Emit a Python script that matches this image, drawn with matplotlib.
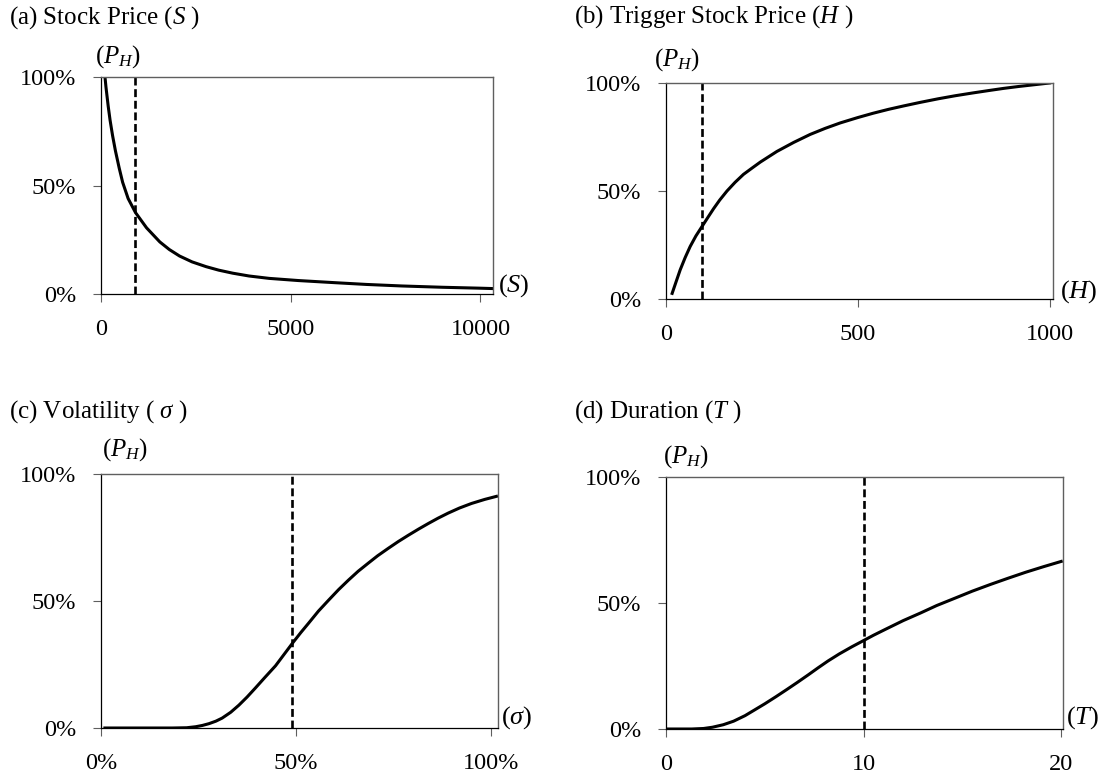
import matplotlib
matplotlib.use("Agg")
import matplotlib.pyplot as plt
from matplotlib.ticker import FuncFormatter

plt.rcParams["font.family"] = ["Liberation Serif", "DejaVu Serif"]
plt.rcParams["mathtext.fontset"] = "custom"
plt.rcParams["mathtext.rm"] = "Liberation Serif"
plt.rcParams["mathtext.it"] = "Liberation Serif:italic"

# (a) probability vs stock price S
s_vals = [105, 130, 160, 190, 240, 305, 380, 480, 570, 715, 910, 1200, 1550,
          1800, 2070, 2400, 2770, 3100, 3470, 3900, 4430, 5200, 6180, 7000,
          7930, 9000, 9940, 10330]
s_prob = [1.00, 0.955, 0.91, 0.865, 0.80, 0.73, 0.66, 0.58, 0.515, 0.44, 0.375,
          0.305, 0.24, 0.205, 0.175, 0.148, 0.126, 0.11, 0.096, 0.083, 0.072,
          0.062, 0.052, 0.044, 0.037, 0.031, 0.027, 0.025]
s_mark = 900

# (b) probability vs trigger price H
h_vals = [16, 25, 37, 50, 63, 78, 94, 110, 124, 140, 159, 180, 202, 225, 246,
          289, 333, 376, 415, 454, 500, 540, 580, 620, 662, 710, 754, 800, 845,
          880, 920, 960, 1000]
h_prob = [0.026, 0.073, 0.135, 0.192, 0.243, 0.292, 0.336, 0.38, 0.418, 0.458,
          0.50, 0.54, 0.577, 0.607, 0.634, 0.683, 0.725, 0.762, 0.79, 0.815,
          0.84, 0.86, 0.878, 0.894, 0.91, 0.927, 0.941, 0.954, 0.966, 0.975,
          0.984, 0.992, 1.00]
h_mark = 94

# (c) probability vs volatility sigma
v_vals = [0.01, 0.10, 0.183, 0.22, 0.243, 0.26, 0.277, 0.295, 0.311, 0.333,
          0.354, 0.375, 0.396, 0.42, 0.448, 0.47, 0.493, 0.513, 0.533, 0.558,
          0.584, 0.61, 0.635, 0.66, 0.686, 0.71, 0.737, 0.763, 0.789, 0.815,
          0.84, 0.865, 0.891, 0.92, 0.951, 0.985, 1.015]
v_prob = [0.0, 0.0, 0.0, 0.001, 0.005, 0.01, 0.017, 0.027, 0.039, 0.062,
          0.09, 0.122, 0.157, 0.198, 0.245, 0.29, 0.337, 0.376, 0.413, 0.46,
          0.503, 0.545, 0.582, 0.617, 0.649, 0.678, 0.707, 0.734, 0.759, 0.783,
          0.805, 0.826, 0.846, 0.866, 0.884, 0.90, 0.912]
v_mark = 0.49

# (d) probability vs duration T
t_vals = [0, 1.3, 1.9, 2.35, 2.9, 3.42, 4.0, 4.49, 5.0, 5.56, 6.1, 6.63, 7.2,
          7.7, 8.2, 8.77, 9.4, 10, 10.5, 11.09, 12, 12.87, 13.7, 14.65, 15.5,
          16.43, 17.3, 18.2, 19.1, 20]
t_prob = [0.0, 0.0, 0.002, 0.007, 0.017, 0.031, 0.053, 0.076, 0.10, 0.128,
          0.156, 0.184, 0.215, 0.243, 0.27, 0.298, 0.326, 0.351, 0.372, 0.395,
          0.43, 0.46, 0.49, 0.52, 0.547, 0.574, 0.598, 0.622, 0.644, 0.665]
t_mark = 10

W, H = 1103, 775
fig = plt.figure(figsize=(W / 100, H / 100), dpi=100)


def make_axes(left, right, top, bottom):
    return fig.add_axes([left / W, 1 - bottom / H, (right - left) / W, (bottom - top) / H])


pct = FuncFormatter(lambda v, _: f"{v * 100:.0f}%")

panels = [
    # x, y, marker, xlim, xticks, x formatter, axes box, title, title pos, x label, label offsets
    (s_vals, s_prob, s_mark, 10330, [0, 5000, 10000], None, (101, 493, 77, 294),
     r"(a) Stock Price ($S$ )", (9, 18), r"$(S)$", (-6, 20), (5, 8)),
    (h_vals, h_prob, h_mark, 1009, [0, 500, 1000], None, (666, 1053, 83, 299),
     r"(b) Trigger Stock Price ($H$ )", (574, 17), r"$(H)$", (-12, 23), (7, 7)),
    (v_vals, v_prob, v_mark, 1.019, [0, 0.5, 1.0], pct, (101, 498, 474, 728),
     r"(c) Volatility ( $\sigma$ )", (9, 412), r"$(\sigma)$", (1, 24), (3, 10)),
    (t_vals, t_prob, t_mark, 20.09, [0, 10, 20], None, (666, 1063, 477, 729),
     r"(d) Duration ($T$ )", (574, 412), r"$(T)$", (-3, 20), (3, 11)),
]

for xs, ys, mark, xmax, xticks, xfmt, box, title, tpos, xlab, poff, xoff in panels:
    ax = make_axes(*box)
    ax.plot(xs, ys, color="black", lw=2.2, solid_joinstyle="round")
    ax.plot([mark, mark], [0, 1], color="black", lw=1.9, linestyle=(0, (3, 1.4)))
    ax.set_xlim(0, xmax)
    ax.set_ylim(0, 1)
    ax.set_xticks(xticks)
    ax.set_yticks([0, 0.5, 1.0])
    ax.yaxis.set_major_formatter(pct)
    if xfmt is not None:
        ax.xaxis.set_major_formatter(xfmt)
    for side in ("left", "bottom"):
        ax.spines[side].set_color("black")
        ax.spines[side].set_linewidth(0.9)
    for side in ("top", "right"):
        ax.spines[side].set_color("#5f5f5f")
        ax.spines[side].set_linewidth(1.0)
    ax.tick_params(axis="both", direction="out", length=6, width=0.8,
                   color="#5f5f5f", labelsize=17.5, pad=12)
    fig.text(tpos[0] / W, 1 - tpos[1] / H, title, fontsize=18, ha="left", va="center")
    ax.annotate(r"$(P_H)$", xy=(0, 1), xycoords="axes fraction",
                xytext=poff, textcoords="offset pixels",
                fontsize=18, ha="left", va="center")
    ax.annotate(xlab, xy=(1, 0), xycoords="axes fraction",
                xytext=xoff, textcoords="offset pixels",
                fontsize=19, ha="left", va="center")

fig.savefig("out.png", dpi=100)
